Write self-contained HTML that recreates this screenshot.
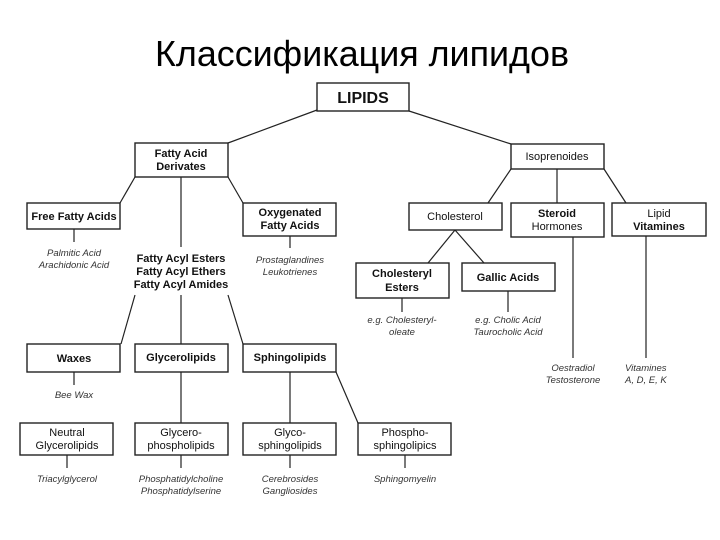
<!DOCTYPE html>
<html><head><meta charset="utf-8"><style>
html,body{margin:0;padding:0;background:#fff;}
svg{display:block;}
text{font-family:"Liberation Sans",Arial,sans-serif;fill:#111;}
.b{font-weight:bold;font-size:11px;}
.n{font-size:11px;}
.i{font-style:italic;font-size:9.5px;fill:#333;}
rect{fill:#fff;stroke:#222;stroke-width:1.4;}
line{stroke:#222;stroke-width:1.2;}
</style></head><body>
<svg width="720" height="540" viewBox="0 0 720 540" xmlns="http://www.w3.org/2000/svg">
<text x="155" y="66" textLength="414" lengthAdjust="spacingAndGlyphs" style="font-size:36px;fill:#000">Классификация липидов</text>
<!-- connectors -->
<line x1="317" y1="110" x2="228" y2="143"/>
<line x1="409" y1="111" x2="511" y2="144"/>
<line x1="135" y1="177" x2="120" y2="203"/>
<line x1="228" y1="177" x2="243" y2="203"/>
<line x1="181" y1="177" x2="181" y2="247"/>
<line x1="74" y1="229" x2="74" y2="242"/>
<line x1="290" y1="236" x2="290" y2="248"/>
<line x1="135" y1="295" x2="121" y2="344"/>
<line x1="181" y1="295" x2="181" y2="344"/>
<line x1="228" y1="295" x2="243" y2="344"/>
<line x1="74" y1="372" x2="74" y2="385"/>
<line x1="181" y1="372" x2="181" y2="423"/>
<line x1="290" y1="372" x2="290" y2="423"/>
<line x1="336" y1="372" x2="358" y2="423"/>
<line x1="67" y1="455" x2="67" y2="468"/>
<line x1="181" y1="455" x2="181" y2="468"/>
<line x1="290" y1="455" x2="290" y2="468"/>
<line x1="405" y1="455" x2="405" y2="468"/>
<line x1="511" y1="169" x2="488" y2="203"/>
<line x1="557" y1="169" x2="557" y2="203"/>
<line x1="604" y1="169" x2="626" y2="203"/>
<line x1="455" y1="230" x2="428" y2="263"/>
<line x1="455" y1="230" x2="484" y2="263"/>
<line x1="402" y1="298" x2="402" y2="312"/>
<line x1="508" y1="291" x2="508" y2="312"/>
<line x1="573" y1="237" x2="573" y2="358"/>
<line x1="646" y1="236" x2="646" y2="358"/>
<!-- boxes -->
<rect x="317" y="83" width="92" height="28"/>
<text x="363" y="103" text-anchor="middle" style="font-weight:bold;font-size:16px">LIPIDS</text>
<rect x="135" y="143" width="93" height="34"/>
<text x="181" y="157" text-anchor="middle" class="b">Fatty Acid</text>
<text x="181" y="170" text-anchor="middle" class="b">Derivates</text>
<rect x="27" y="203" width="93" height="26"/>
<text x="74" y="220" text-anchor="middle" class="b">Free Fatty Acids</text>
<rect x="243" y="203" width="93" height="33"/>
<text x="290" y="216" text-anchor="middle" class="b">Oxygenated</text>
<text x="290" y="229" text-anchor="middle" class="b">Fatty Acids</text>
<text x="74" y="256" text-anchor="middle" class="i">Palmitic Acid</text>
<text x="74" y="268" text-anchor="middle" class="i">Arachidonic Acid</text>
<text x="181" y="262" text-anchor="middle" class="b">Fatty Acyl Esters</text>
<text x="181" y="275" text-anchor="middle" class="b">Fatty Acyl Ethers</text>
<text x="181" y="288" text-anchor="middle" class="b">Fatty Acyl Amides</text>
<text x="290" y="263" text-anchor="middle" class="i">Prostaglandines</text>
<text x="290" y="275" text-anchor="middle" class="i">Leukotrienes</text>
<rect x="27" y="344" width="93" height="28"/>
<text x="74" y="362" text-anchor="middle" class="b">Waxes</text>
<rect x="135" y="344" width="93" height="28"/>
<text x="181" y="361" text-anchor="middle" class="b">Glycerolipids</text>
<rect x="243" y="344" width="93" height="28"/>
<text x="290" y="361" text-anchor="middle" class="b">Sphingolipids</text>
<text x="74" y="398" text-anchor="middle" class="i">Bee Wax</text>
<rect x="20" y="423" width="93" height="32"/>
<text x="67" y="436" text-anchor="middle" class="n">Neutral</text>
<text x="67" y="449" text-anchor="middle" class="n">Glycerolipids</text>
<rect x="135" y="423" width="93" height="32"/>
<text x="181" y="436" text-anchor="middle" class="n">Glycero-</text>
<text x="181" y="449" text-anchor="middle" class="n">phospholipids</text>
<rect x="243" y="423" width="93" height="32"/>
<text x="290" y="436" text-anchor="middle" class="n">Glyco-</text>
<text x="290" y="449" text-anchor="middle" class="n">sphingolipids</text>
<rect x="358" y="423" width="93" height="32"/>
<text x="405" y="436" text-anchor="middle" class="n">Phospho-</text>
<text x="405" y="449" text-anchor="middle" class="n">sphingolipics</text>
<text x="67" y="482" text-anchor="middle" class="i">Triacylglycerol</text>
<text x="181" y="482" text-anchor="middle" class="i">Phosphatidylcholine</text>
<text x="181" y="494" text-anchor="middle" class="i">Phosphatidylserine</text>
<text x="290" y="482" text-anchor="middle" class="i">Cerebrosides</text>
<text x="290" y="494" text-anchor="middle" class="i">Gangliosides</text>
<text x="405" y="482" text-anchor="middle" class="i">Sphingomyelin</text>
<rect x="511" y="144" width="93" height="25"/>
<text x="557" y="160" text-anchor="middle" class="n">Isoprenoides</text>
<rect x="409" y="203" width="93" height="27"/>
<text x="455" y="220" text-anchor="middle" class="n">Cholesterol</text>
<rect x="511" y="203" width="93" height="34"/>
<text x="557" y="217" text-anchor="middle" class="b">Steroid</text>
<text x="557" y="230" text-anchor="middle" class="n">Hormones</text>
<rect x="612" y="203" width="94" height="33"/>
<text x="659" y="217" text-anchor="middle" class="n">Lipid</text>
<text x="659" y="230" text-anchor="middle" class="b">Vitamines</text>
<rect x="356" y="263" width="93" height="35"/>
<text x="402" y="277" text-anchor="middle" class="b">Cholesteryl</text>
<text x="402" y="291" text-anchor="middle" class="b">Esters</text>
<rect x="462" y="263" width="93" height="28"/>
<text x="508" y="281" text-anchor="middle" class="b">Gallic Acids</text>
<text x="402" y="323" text-anchor="middle" class="i">e.g. Cholesteryl-</text>
<text x="402" y="335" text-anchor="middle" class="i">oleate</text>
<text x="508" y="323" text-anchor="middle" class="i">e.g. Cholic Acid</text>
<text x="508" y="335" text-anchor="middle" class="i">Taurocholic Acid</text>
<text x="573" y="371" text-anchor="middle" class="i">Oestradiol</text>
<text x="573" y="383" text-anchor="middle" class="i">Testosterone</text>
<text x="625" y="371" class="i">Vitamines</text>
<text x="625" y="383" class="i">A, D, E, K</text>
</svg>
</body></html>
